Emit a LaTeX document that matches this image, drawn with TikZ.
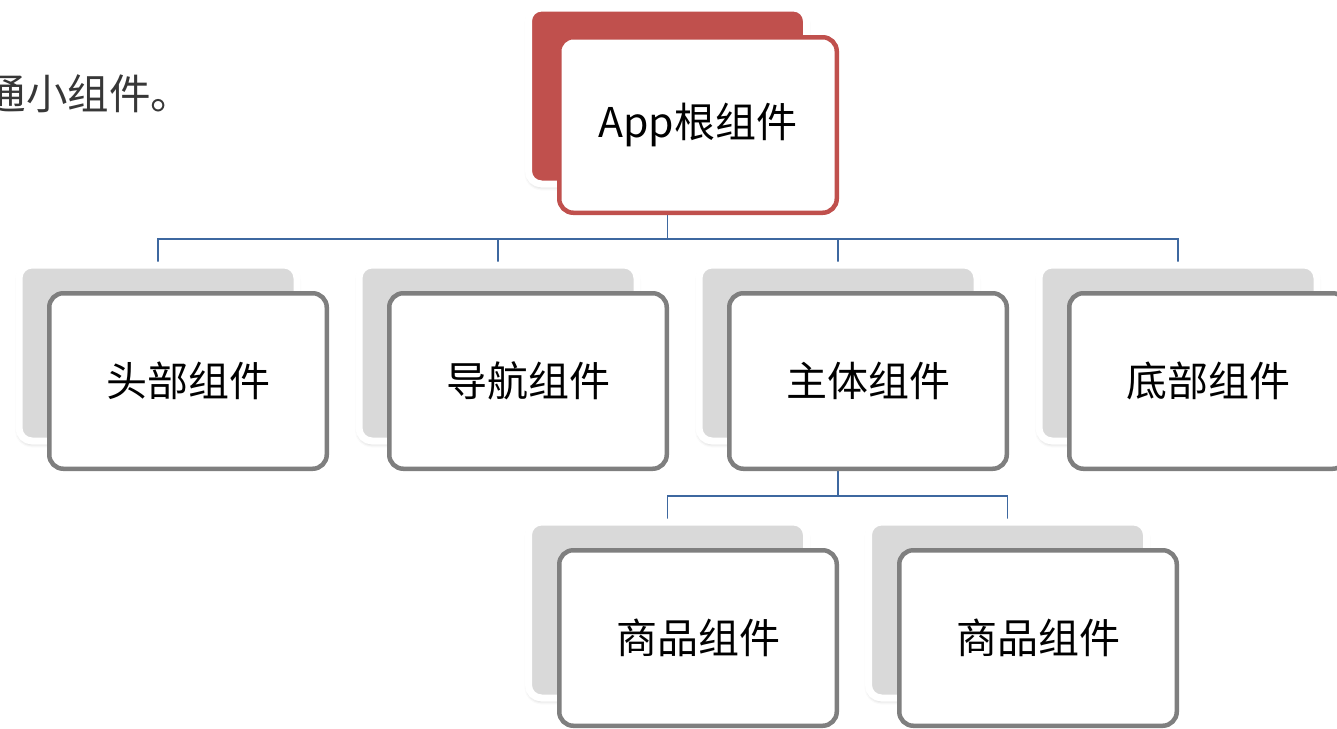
\documentclass[tikz,border=0pt]{standalone}
\usepackage{fontspec}
\setmainfont{Noto Sans CJK SC}
\usetikzlibrary{shadows.blur}
\definecolor{rootred}{RGB}{192,80,77}
\definecolor{backgray}{RGB}{217,217,217}
\definecolor{bordergray}{RGB}{127,127,127}
\definecolor{connblue}{RGB}{62,104,160}
\definecolor{txtgray}{RGB}{55,55,55}
\pgfdeclarelayer{bg}
\pgfsetlayers{bg,main}
\tikzset{
 backbox/.style={draw=white, line width=7pt, fill=backgray, rounded corners=13pt,
   minimum width=278pt, minimum height=176pt, inner sep=0pt,
   blur shadow={shadow xshift=0pt, shadow yshift=-2.5pt, shadow blur radius=4pt, shadow opacity=30}},
 rootback/.style={backbox, fill=rootred},
 frontbox/.style={draw=bordergray, line width=4.5pt, fill=white, rounded corners=14pt,
   minimum width=277.5pt, minimum height=175.5pt, inner sep=0pt,
   font=\fontsize{41}{49}\selectfont, text=black},
 rootfront/.style={frontbox, draw=rootred},
 conn/.style={draw=connblue, line width=1.6pt},
}
\begin{document}
\begin{tikzpicture}[x=1pt,y=-1pt]
\useasboundingbox (0,0) rectangle (1337,728);
\clip (0,0) rectangle (1337,728);

\node[anchor=west, inner sep=0pt, font=\fontsize{41.5}{50}\selectfont, text=txtgray] (intro) at (-15.5,94) {通小组件。};

% root
\node[rootback] (rb) at (667.5,96) {};
\node[rootfront] (r) at (698,125) {App根组件};

% second row
\node[backbox] (hb) at (158,353) {};
\node[frontbox] (h) at (188,381) {头部组件};
\node[backbox] (nb) at (498,353) {};
\node[frontbox] (n) at (528,381) {导航组件};
\node[backbox] (mb) at (838,353) {};
\node[frontbox] (m) at (868,381) {主体组件};
\node[backbox] (fb) at (1178,353) {};
\node[frontbox] (f) at (1208,381) {底部组件};

% third row
\node[backbox] (g1b) at (667.5,610) {};
\node[frontbox] (g1) at (698,638) {商品组件};
\node[backbox] (g2b) at (1007.5,610) {};
\node[frontbox] (g2) at (1038,638) {商品组件};

\begin{pgfonlayer}{bg}
\foreach \c in {hb,nb,mb,fb}{
  \draw[conn] (rb |- r.south) -- ++(0,24) -| (\c.north);
}
\foreach \c in {g1b,g2b}{
  \draw[conn] (mb |- m.south) -- ++(0,25) -| (\c.north);
}
\end{pgfonlayer}
\end{tikzpicture}
\end{document}
